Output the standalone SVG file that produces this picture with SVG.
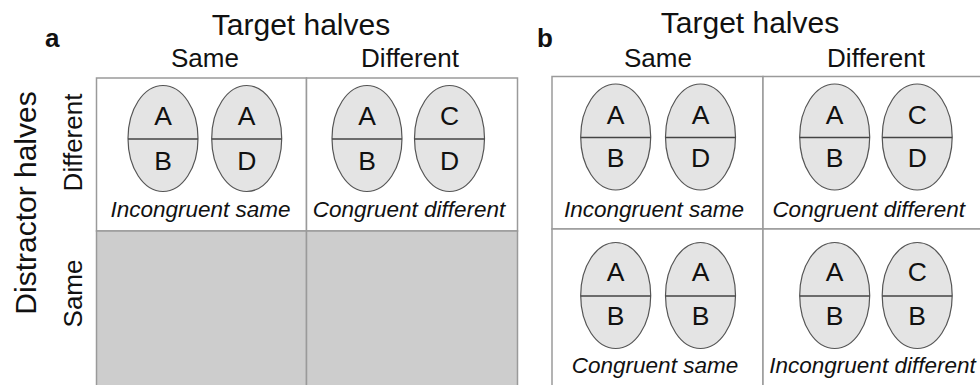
<svg xmlns="http://www.w3.org/2000/svg" width="980" height="385" viewBox="0 0 980 385">
<style>
text{font-family:"Liberation Sans",Arial,sans-serif;fill:#111}
.hdr{font-size:30px;text-anchor:middle}
.sub{font-size:26px;text-anchor:middle}
.pl{font-size:26px;font-weight:bold}
.ax{font-size:30px;text-anchor:middle}
.lt{font-size:26.5px;text-anchor:middle}
.lab{font-size:22.5px;font-style:italic;text-anchor:middle}
.cell{fill:#fff;stroke:#9a9a9a;stroke-width:1.5}
.gray{fill:#cdcdcd;stroke:#9a9a9a;stroke-width:1.5}
.egg{fill:#e4e4e4;stroke:#555;stroke-width:1.2}
.mid{stroke:#444;stroke-width:1.6}
</style>
<defs>
<g id="eggA">
<ellipse class="egg" cx="0" cy="0" rx="35" ry="53"/>
<line class="mid" x1="-35" y1="0.5" x2="35" y2="0.5"/>
</g>
</defs>
<rect width="980" height="385" fill="#fff"/>

<g id="panel-a-labels">
<text class="pl" x="45" y="47">a</text>
<text class="hdr" x="301" y="35">Target halves</text>
<text class="sub" x="205" y="67">Same</text>
<text class="sub" x="410" y="67">Different</text>
<text class="ax" transform="translate(36,203) rotate(-90)">Distractor halves</text>
<text class="sub" transform="translate(81.5,142.5) rotate(-90)">Different</text>
<text class="sub" transform="translate(81.5,293.5) rotate(-90)">Same</text>
</g>

<g id="a-cells">
<rect class="cell" x="96.5" y="78" width="210" height="153"/>
<rect class="cell" x="306.5" y="78" width="211" height="153"/>
<rect class="gray" x="96.5" y="231" width="210" height="160"/>
<rect class="gray" x="306.5" y="231" width="211" height="160"/>
</g>

<g id="a-incongruent-same">
<use href="#eggA" x="163" y="138.5"/>
<use href="#eggA" x="246.7" y="138.5"/>
<text class="lt" x="163" y="125">A</text>
<text class="lt" x="163" y="170">B</text>
<text class="lt" x="246.7" y="125">A</text>
<text class="lt" x="246.7" y="170">D</text>
<text class="lab" x="200.5" y="217">Incongruent same</text>
</g>

<g id="a-congruent-different">
<use href="#eggA" x="367" y="138.5"/>
<use href="#eggA" x="449.5" y="138.5"/>
<text class="lt" x="367" y="125">A</text>
<text class="lt" x="367" y="170">B</text>
<text class="lt" x="449.5" y="125">C</text>
<text class="lt" x="449.5" y="170">D</text>
<text class="lab" x="409" y="217">Congruent different</text>
</g>

<g id="panel-b-labels">
<text class="pl" x="537" y="47">b</text>
<text class="hdr" x="750" y="33">Target halves</text>
<text class="sub" x="658" y="67">Same</text>
<text class="sub" x="876" y="67">Different</text>
</g>

<g id="b-cells">
<rect class="cell" x="552" y="76.5" width="211" height="152.5"/>
<rect class="cell" x="763" y="76.5" width="230" height="152.5"/>
<rect class="cell" x="552" y="229" width="211" height="170"/>
<rect class="cell" x="763" y="229" width="230" height="170"/>
</g>

<g id="b-incongruent-same">
<use href="#eggA" x="615.7" y="137"/>
<use href="#eggA" x="700.5" y="137"/>
<text class="lt" x="615.7" y="124">A</text>
<text class="lt" x="615.7" y="167">B</text>
<text class="lt" x="700.5" y="124">A</text>
<text class="lt" x="700.5" y="167">D</text>
<text class="lab" x="654" y="217">Incongruent same</text>
</g>

<g id="b-congruent-different">
<use href="#eggA" x="834.7" y="137"/>
<use href="#eggA" x="917.2" y="137"/>
<text class="lt" x="834.7" y="124">A</text>
<text class="lt" x="834.7" y="167">B</text>
<text class="lt" x="917.2" y="124">C</text>
<text class="lt" x="917.2" y="167">D</text>
<text class="lab" x="868.7" y="217">Congruent different</text>
</g>

<g id="b-congruent-same">
<use href="#eggA" x="615.7" y="295.5"/>
<use href="#eggA" x="700.5" y="295.5"/>
<text class="lt" x="615.7" y="281">A</text>
<text class="lt" x="615.7" y="325">B</text>
<text class="lt" x="700.5" y="281">A</text>
<text class="lt" x="700.5" y="325">B</text>
<text class="lab" x="655" y="373">Congruent same</text>
</g>

<g id="b-incongruent-different">
<use href="#eggA" x="834.7" y="295.5"/>
<use href="#eggA" x="917.2" y="295.5"/>
<text class="lt" x="834.7" y="281">A</text>
<text class="lt" x="834.7" y="325">B</text>
<text class="lt" x="917.2" y="281">C</text>
<text class="lt" x="917.2" y="325">B</text>
<text class="lab" x="872.5" y="373">Incongruent different</text>
</g>

<g id="connectors"></g>
</svg>
